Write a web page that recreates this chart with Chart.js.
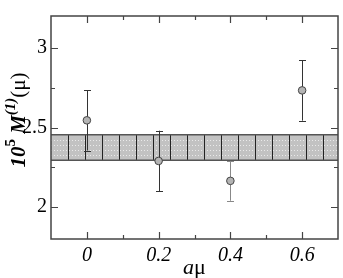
<!DOCTYPE html>
<html>
<head>
<meta charset="utf-8">
<script src="https://cdn.jsdelivr.net/npm/chart.js@4/dist/chart.umd.min.js"></script>
<style>
  html, body { margin: 0; padding: 0; background: #fff; }
</style>
</head>
<body>
<canvas id="chart" width="343" height="278"></canvas>
<script>
// data
const amu = [0, 0.2, 0.4, 0.6];
const m1 = [2.545, 2.29, 2.165, 2.733];
const m1Err = [0.19, 0.19, 0.125, 0.19];
const band = [2.295, 2.455];
const xTicks = [0, 0.2, 0.4, 0.6];
const xMinor = [0.1, 0.3, 0.5];
const yTicks = [2, 2.5, 3];
const yMinor = [2.25, 2.75];

const serif = "'Liberation Serif', 'Times New Roman', Times, serif";

const decor = {
  id: "decor",
  beforeDatasetsDraw(chart) {
    const ctx = chart.ctx;
    const a = chart.chartArea;
    const x = chart.scales.x;
    const y = chart.scales.y;

    // shaded band
    const yt = y.getPixelForValue(band[1]);
    const yb = y.getPixelForValue(band[0]);
    ctx.save();
    ctx.fillStyle = "#c2c2c2";
    ctx.fillRect(a.left, yt, a.right - a.left, yb - yt);
    ctx.strokeStyle = "#eaeaea";
    ctx.lineWidth = 1;
    ctx.setLineDash([1, 2]);
    for (let i = 1; i <= 4; i++) {
      const yy = Math.round(yt + (yb - yt) * i / 5) + 0.5;
      ctx.beginPath();
      ctx.moveTo(a.left, yy);
      ctx.lineTo(a.right, yy);
      ctx.stroke();
    }
    ctx.setLineDash([]);
    ctx.strokeStyle = "#222";
    for (let xx = a.left + 17; xx < a.right; xx += 17) {
      ctx.beginPath();
      ctx.moveTo(Math.round(xx) + 0.5, yt);
      ctx.lineTo(Math.round(xx) + 0.5, yb);
      ctx.stroke();
    }
    ctx.strokeStyle = "#555";
    ctx.lineWidth = 1.5;
    ctx.beginPath();
    ctx.moveTo(a.left, yt); ctx.lineTo(a.right, yt);
    ctx.moveTo(a.left, yb); ctx.lineTo(a.right, yb);
    ctx.stroke();

    // error bars
    ctx.lineWidth = 1;
    amu.forEach((v, i) => {
      const px = Math.round(x.getPixelForValue(v)) + 0.5;
      const p1 = y.getPixelForValue(m1[i] + m1Err[i]);
      const p2 = y.getPixelForValue(m1[i] - m1Err[i]);
      ctx.strokeStyle = i === 2 ? "#888" : "#333";
      ctx.beginPath();
      ctx.moveTo(px, p1); ctx.lineTo(px, p2);
      ctx.moveTo(px - 3.5, Math.round(p1) + 0.5); ctx.lineTo(px + 3.5, Math.round(p1) + 0.5);
      ctx.moveTo(px - 3.5, Math.round(p2) + 0.5); ctx.lineTo(px + 3.5, Math.round(p2) + 0.5);
      ctx.stroke();
    });
    ctx.restore();
  },
  afterDraw(chart) {
    const ctx = chart.ctx;
    const a = chart.chartArea;
    const x = chart.scales.x;
    const y = chart.scales.y;
    ctx.save();
    ctx.strokeStyle = "#444";
    ctx.lineWidth = 1.5;
    ctx.strokeRect(a.left, a.top, a.right - a.left, a.bottom - a.top);

    // inward ticks on all sides
    ctx.lineWidth = 1.2;
    ctx.beginPath();
    const tickX = (v, len) => {
      const px = Math.round(x.getPixelForValue(v)) + 0.5;
      ctx.moveTo(px, a.bottom); ctx.lineTo(px, a.bottom - len);
      ctx.moveTo(px, a.top); ctx.lineTo(px, a.top + len);
    };
    const tickY = (v, len) => {
      const py = Math.round(y.getPixelForValue(v)) + 0.5;
      ctx.moveTo(a.left, py); ctx.lineTo(a.left + len, py);
      ctx.moveTo(a.right, py); ctx.lineTo(a.right - len, py);
    };
    xTicks.forEach(v => tickX(v, 7));
    xMinor.forEach(v => tickX(v, 4));
    yTicks.forEach(v => tickY(v, 7));
    yMinor.forEach(v => tickY(v, 4));
    ctx.stroke();

    // y title: 10^5 M^(1)(μ)
    const parts = [
      { t: "10", f: "italic bold 21px " + serif, dy: 0 },
      { t: "5", f: "bold 15px " + serif, dy: -10 },
      { t: " M", f: "italic bold 21px " + serif, dy: 0 },
      { t: "(1)", f: "italic bold 15px " + serif, dy: -10 },
      { t: "(μ)", f: "21px " + serif, dy: 0 },
    ];
    let total = 0;
    parts.forEach(p => { ctx.font = p.f; p.w = ctx.measureText(p.t).width; total += p.w; });
    ctx.translate(25, 120);
    ctx.rotate(-Math.PI / 2);
    ctx.fillStyle = "#000";
    ctx.textBaseline = "alphabetic";
    let cx = -total / 2;
    parts.forEach(p => {
      ctx.font = p.f;
      ctx.fillText(p.t, cx, p.dy);
      cx += p.w;
    });
    ctx.restore();

    // x title: aμ
    ctx.save();
    ctx.fillStyle = "#000";
    ctx.font = "italic 22px " + serif;
    const wa = ctx.measureText("a").width;
    ctx.font = "22px " + serif;
    const wm = ctx.measureText("μ").width;
    const mid = (a.left + a.right) / 2;
    let sx = mid - (wa + wm) / 2;
    ctx.font = "italic 22px " + serif;
    ctx.fillText("a", sx, 274);
    ctx.font = "22px " + serif;
    ctx.fillText("μ", sx + wa, 274);
    ctx.restore();
  },
};

new Chart(document.getElementById("chart"), {
  type: "scatter",
  data: {
    datasets: [{
      data: amu.map((v, i) => ({ x: v, y: m1[i] })),
      pointRadius: 3.8,
      pointBackgroundColor: "#b4b4b4",
      pointBorderColor: "#444",
      pointBorderWidth: 1,
    }],
  },
  options: {
    responsive: false,
    animation: false,
    layout: { padding: { top: 2, right: 3, left: 0, bottom: 0 } },
    plugins: { legend: { display: false }, tooltip: { enabled: false } },
    scales: {
      x: {
        type: "linear",
        min: -0.1,
        max: 0.7,
        afterBuildTicks: (s) => { s.ticks = xTicks.map(v => ({ value: v })); },
        afterFit: (s) => { s.height = 39; },
        grid: { display: false, drawTicks: false },
        border: { display: false },
        ticks: {
          color: "#000",
          padding: 5,
          font: { family: serif, size: 20, style: "italic" },
          callback: (v) => String(v),
        },
      },
      y: {
        min: 1.8,
        max: 3.2,
        afterBuildTicks: (s) => { s.ticks = yTicks.map(v => ({ value: v })); },
        afterFit: (s) => { s.width = 51; },
        grid: { display: false, drawTicks: false },
        border: { display: false },
        ticks: {
          color: "#000",
          padding: 4,
          font: { family: serif, size: 20 },
          callback: (v) => String(v),
        },
      },
    },
  },
  plugins: [decor],
});
</script>
</body>
</html>
